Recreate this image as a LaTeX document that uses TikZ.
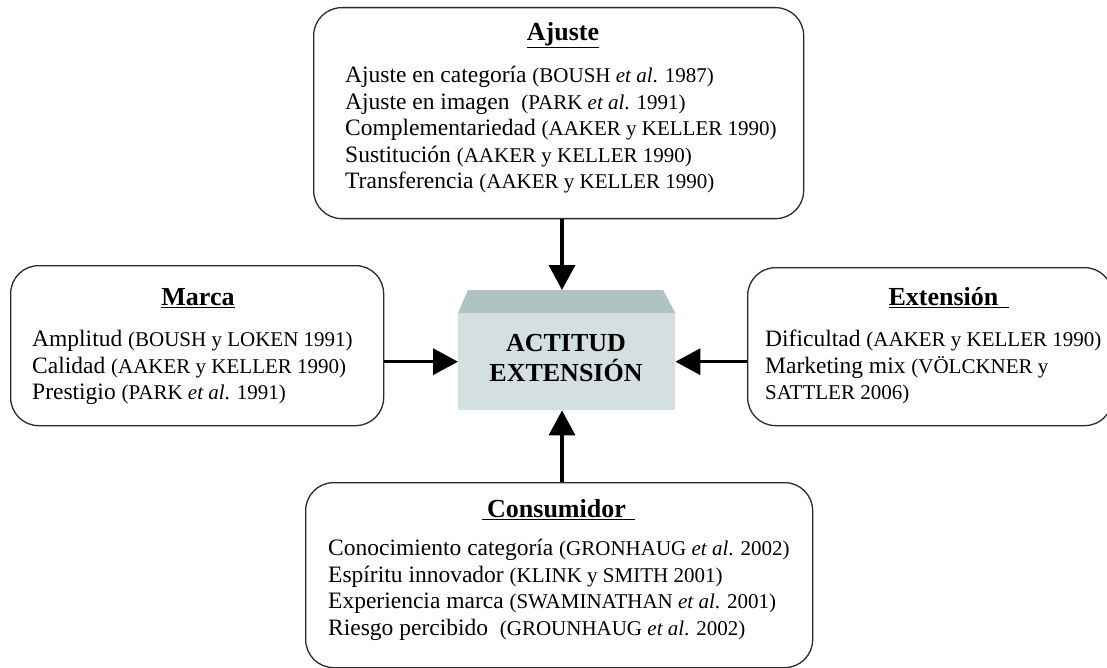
\documentclass[tikz,border=0pt]{standalone}
\usepackage{fontspec}
\setmainfont{Liberation Serif}
\usetikzlibrary{arrows.meta}
\definecolor{frontc}{HTML}{D4DFE0}
\definecolor{topc}{HTML}{AFC3C4}
\definecolor{edgec}{HTML}{2A2A2A}
\newcommand\refsz[1]{{\fontsize{21}{26.5}\selectfont #1}}
\begin{document}
\begin{tikzpicture}[x=1pt,y=-1pt,
  box/.style={draw=edgec, line width=1.3pt, rounded corners=28pt, anchor=north west, inner sep=0pt},
  ttl/.style={font=\fontsize{26}{30}\selectfont\bfseries, inner sep=0pt},
  body/.style={font=\fontsize{23.5}{26.5}\selectfont, align=left, anchor=north west, inner sep=0pt},
  arr/.style={line width=3.5pt, -{Triangle[width=26pt,length=25pt]}}
]
\useasboundingbox (0,0) rectangle (1107,668);

% boxes
\node[box, minimum width=490pt, minimum height=211pt] (aj) at (313,7) {};
\node[box, minimum width=373pt, minimum height=160pt] (mk) at (10,265) {};
\node[box, minimum width=365pt, minimum height=158pt] (ex) at (747,267) {};
\node[box, minimum width=507pt, minimum height=185pt] (cs) at (305,482) {};

% central block
\node[fill=frontc, minimum width=217pt, minimum height=97pt, anchor=north west, inner sep=0pt] (cx) at (458,313) {};
\fill[topc] (cx.north west) -- ++(10,-23) -- ++(195,0) -- (cx.north east) -- cycle;
\coordinate (ctop) at (562,290);
\node[font=\fontsize{26}{30}\selectfont\bfseries, align=center, inner sep=0pt] (ct) at (566,358) {ACTITUD\\EXTENSIÓN};

% titles
\node[ttl] (ajt) at (563,35) {\underline{Ajuste}};
\node[ttl] (mkt) at (198,298) {\underline{Marca}};
\node[ttl] (ext) at (949,298) {\underline{Extensión\hspace{11pt}}};
\node[ttl] (cst) at (558.5,510) {\underline{\hspace{5pt}Consumidor\hspace{9pt}}};

% bodies
\node[body] (ajb) at (345,66) {%
Ajuste en categoría \refsz{(BOUSH \textit{et al}. 1987)}\\
Ajuste en imagen \ \refsz{(PARK \textit{et al}. 1991)}\\
Complementariedad \refsz{(AAKER y KELLER 1990)}\\
Sustitución \refsz{(AAKER y KELLER 1990)}\\
Transferencia \refsz{(AAKER y KELLER 1990)}};

\node[body] (mkb) at (32,330) {%
Amplitud \refsz{(BOUSH y LOKEN 1991)}\\
Calidad \refsz{(AAKER y KELLER 1990)}\\
Prestigio \refsz{(PARK \textit{et al}. 1991)}};

\node[body] (exb) at (765,330) {%
Dificultad \refsz{(AAKER y KELLER 1990)}\\
Marketing mix \refsz{(VÖLCKNER y}\\
\refsz{SATTLER 2006)}};

\node[body] (csb) at (328,539) {%
Conocimiento categoría \refsz{(GRONHAUG \textit{et al}. 2002)}\\
Espíritu innovador \refsz{(KLINK y SMITH 2001)}\\
Experiencia marca \refsz{(SWAMINATHAN \textit{et al}. 2001)}\\
Riesgo percibido \ \refsz{(GROUNHAUG \textit{et al}. 2002)}};

% arrows
\draw[arr] (aj.south -| ctop) -- (ctop);
\draw[arr] (cs.north -| ctop) -- (cx.south -| ctop);
\draw[arr] (mk.east |- cx.center) -- (cx.west);
\draw[arr] (ex.west |- cx.center) -- (cx.east);
\end{tikzpicture}
\end{document}
